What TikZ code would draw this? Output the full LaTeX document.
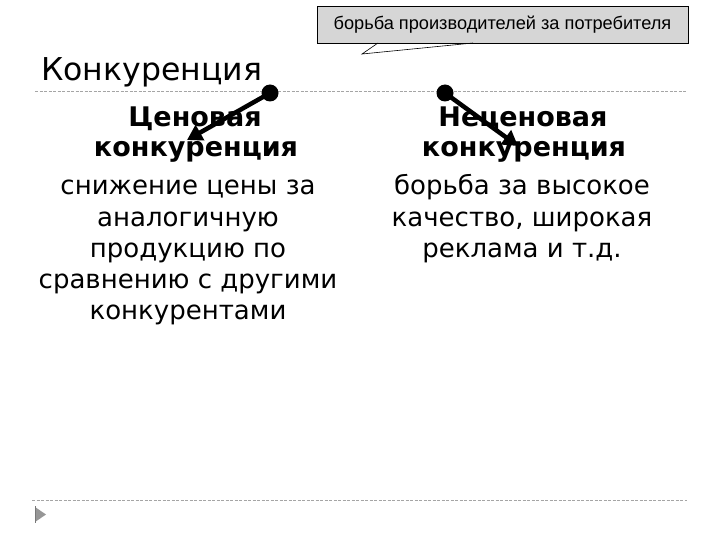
\documentclass[tikz,border=0pt]{standalone}
\usepackage{fontspec}
\setmainfont{DejaVu Sans}
\newfontfamily\arialf{Liberation Sans}
\usetikzlibrary{arrows.meta}
\definecolor{callgray}{RGB}{214,214,214}
\definecolor{rulegray}{RGB}{165,165,165}
\definecolor{bulgray}{RGB}{150,150,150}
\tikzset{
  regtxt/.style={anchor=base, inner sep=0pt, font=\fontsize{26}{31}\selectfont},
  boldtxt/.style={anchor=base, inner sep=0pt, font=\fontsize{27}{31}\selectfont\bfseries},
  dashrule/.style={draw=rulegray, line width=0.8pt, dash pattern=on 3pt off 1.5pt},
  dotnode/.style={circle, fill=black, inner sep=0pt, minimum size=17pt},
  arrline/.style={line width=4.5pt, -{Triangle[length=15pt,width=17pt]}},
}
\begin{document}
\begin{tikzpicture}[x=1pt,y=-1pt]
\useasboundingbox (0,0) rectangle (720,540);
% callout
\node[draw=black, fill=callgray, line width=0.8pt, minimum width=371pt, minimum height=37pt,
      inner sep=0pt, font=\arialf\fontsize{18.2}{20}\selectfont] (call) at (502.5,24.5)
      {борьба производителей за потребителя};
\coordinate (ptip) at (362,54);
\coordinate (pl) at (378,43);
\coordinate (pr) at (473,43);
\draw[line width=0.6pt] (pl) -- (ptip) -- (pr);
% title
\node[anchor=base west, inner sep=0pt, font=\fontsize{31.5}{36}\selectfont] (title) at (41,81) {Конкуренция};
% rules
\coordinate (r1a) at (35,91); \coordinate (r1b) at (686,91);
\coordinate (r2a) at (32,500); \coordinate (r2b) at (687,500);
\draw[dashrule] (r1a) -- (r1b);
\draw[dashrule] (r2a) -- (r2b);
% bullet
\fill[bulgray] (35,507) -- (46,514.5) -- (35,522) -- cycle;
\draw[bulgray!80!black, line width=0.8pt] (35,506) -- (35,523);
% left column
\node[boldtxt] (l1) at (195,127) {Ценовая};
\node[boldtxt] (l2) at (196,157) {конкуренция};
\node[regtxt] (l3) at (188,195) {снижение цены за};
\node[regtxt] (l4) at (188,226) {аналогичную};
\node[regtxt] (l5) at (188,257) {продукцию по};
\node[regtxt] (l6) at (188,288) {сравнению с другими};
\node[regtxt] (l7) at (188,319) {конкурентами};
% right column
\node[boldtxt] (r1) at (523,127) {Неценовая};
\node[boldtxt] (r2) at (524,157) {конкуренция};
\node[regtxt] (r3) at (522,195) {борьба за высокое};
\node[regtxt] (r4) at (522,226) {качество, широкая};
\node[regtxt] (r5) at (522,257) {реклама и т.д.};
% arrows
\node[dotnode] (d1) at (270,93) {};
\node[dotnode] (d2) at (445,93) {};
\coordinate (t1) at (187,140);
\coordinate (t2) at (518,146);
\draw[arrline] (d1.center) -- (t1);
\draw[arrline] (d2.center) -- (t2);
\end{tikzpicture}
\end{document}
